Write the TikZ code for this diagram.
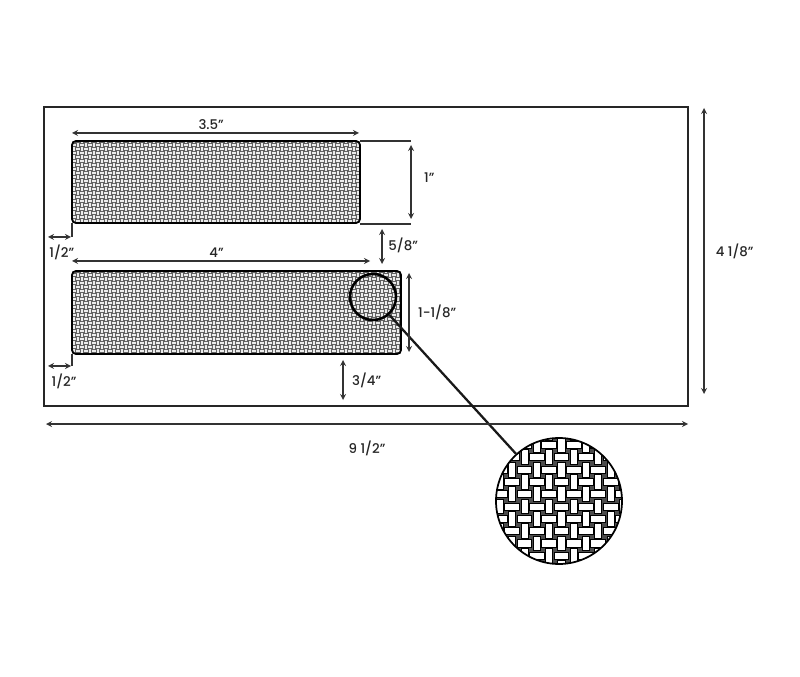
\documentclass[tikz,border=0pt]{standalone}
\usepackage{fontspec}
\setmainfont{Poppins Medium}
\usetikzlibrary{arrows}

% one basket weave, x0, y0, pitch, columns, rows, half width of a bar, bar style
\newcommand{\weavebars}[7]{%
    \foreach \i in {0,...,#4} {
        \foreach \j in {0,...,#5} {
            \pgfmathtruncatemacro{\odd}{mod(\i+\j,2)}
            \ifnum\odd=0
                \path[#7] ({#1+(\i-.6)*#3},{#2+(\j-#6)*#3}) rectangle ({#1+(\i+.6)*#3},{#2+(\j+#6)*#3});
            \else
                \path[#7] ({#1+(\i-#6)*#3},{#2+(\j-.6)*#3}) rectangle ({#1+(\i+#6)*#3},{#2+(\j+.6)*#3});
            \fi
        }
    }
}

\begin{document}
\begin{tikzpicture}[x=0.75pt, y=-0.75pt, font=\fontsize{10}{12}\selectfont, text=black!85]
    \tikzset{frame/.style = {draw=black!85, line width=1.5pt, outer sep=0pt}}
    \tikzset{window/.style = {draw=black, line width=1.4pt, rounded corners=3pt, outer sep=0pt}}
    \tikzset{dim/.style = {draw=black!80, line width=1pt, <->, >=stealth}}
    \tikzset{ext/.style = {draw=black!80, line width=0.8pt}}
    \tikzset{fine/.style = {fill=black!8}}
    \tikzset{coarse/.style = {draw=black, line width=0.5pt, fill=white}}

    \useasboundingbox (0,0) rectangle (800,677);
    \fill[white] (0,0) rectangle (800,677);

    % envelope
    \node[frame, minimum width=483pt, minimum height=224.25pt, inner sep=0pt, anchor=north west] (env) at (44,107) {};

    % windows
    \begin{scope}
        \clip[rounded corners=3pt] (72,141) rectangle (360,223);
        \fill[black!62] (72,141) rectangle (360,223);
        \weavebars{70}{141}{4}{73}{21}{.27}{fine}
    \end{scope}
    \begin{scope}
        \clip[rounded corners=3pt] (72,271) rectangle (401,354);
        \fill[black!62] (72,271) rectangle (401,354);
        \weavebars{70}{271}{4}{83}{21}{.27}{fine}
    \end{scope}
    \node[window, minimum width=216pt, minimum height=61.5pt, inner sep=0pt, anchor=north west] (upper) at (72,141) {};
    \node[window, minimum width=246.75pt, minimum height=62.25pt, inner sep=0pt, anchor=north west] (lower) at (72,271) {};

    % magnifier
    \node[circle, draw=black, line width=1.9pt, minimum size=34.5pt, inner sep=0pt] (lens) at (373,297) {};
    \begin{scope}
        \clip (559,501) circle (63);
        \fill[black!70] (559,501) circle (63);
        \weavebars{462.9}{432.6}{12.3}{14}{11}{.29}{coarse}
    \end{scope}
    \node[circle, draw=black, line width=1.3pt, minimum size=94.5pt, inner sep=0pt] (big) at (559,501) {};
    \draw[black!90, line width=1.7pt] (lens) -- (big);

    % dimension ends
    \coordinate (a1) at (72,133);   \coordinate (a2) at (359,133);
    \coordinate (b1) at (411,145);  \coordinate (b2) at (411,219);
    \coordinate (c1) at (382,229);  \coordinate (c2) at (382,264);
    \coordinate (d1) at (72,261);   \coordinate (d2) at (370,261);
    \coordinate (e1) at (409,273);  \coordinate (e2) at (409,352);
    \coordinate (f1) at (343,360);  \coordinate (f2) at (343,400);
    \coordinate (g1) at (48,237);   \coordinate (g2) at (71,237);
    \coordinate (h1) at (48,366);   \coordinate (h2) at (71,366);
    \coordinate (i1) at (46,424);   \coordinate (i2) at (688,424);
    \coordinate (j1) at (704,108);  \coordinate (j2) at (704,394);

    % dimensions
    \draw[dim] (a1) -- node[above=-1pt, pos=.485] (la) {3.5"} (a2);
    \draw[dim] (b1) -- node[right=6pt, pos=.44] (lb) {1"} (b2);
    \draw[dim] (c1) -- node[right=1pt, pos=.46] (lc) {5/8"} (c2);
    \draw[dim] (d1) -- node[above=-1pt, pos=.485] (ld) {4"} (d2);
    \draw[dim] (e1) -- node[right=3pt] (le) {1-1/8"} (e2);
    \draw[dim] (f1) -- node[right=3pt] (lf) {3/4"} (f2);
    \draw[dim] (g1) -- node[below=2pt, pos=.6] (lg) {1/2"} (g2);
    \draw[dim] (h1) -- node[below=2pt, pos=.7] (lh) {1/2"} (h2);
    \draw[dim] (i1) -- node[below=9pt, pos=.5] (li) {9 1/2"} (i2);
    \draw[dim] (j1) -- node[right=5pt] (lj) {4 1/8"} (j2);

    % extension lines
    \coordinate (x1) at (360,141);  \coordinate (x2) at (411,141);
    \coordinate (x3) at (360,224);  \coordinate (x4) at (411,224);
    \coordinate (x5) at (72,223);   \coordinate (x6) at (72,237);
    \coordinate (x7) at (72,354);   \coordinate (x8) at (72,366);
    \draw[ext] (x1) -- (x2);
    \draw[ext] (x3) -- (x4);
    \draw[ext] (x5) -- (x6);
    \draw[ext] (x7) -- (x8);
\end{tikzpicture}
\end{document}
